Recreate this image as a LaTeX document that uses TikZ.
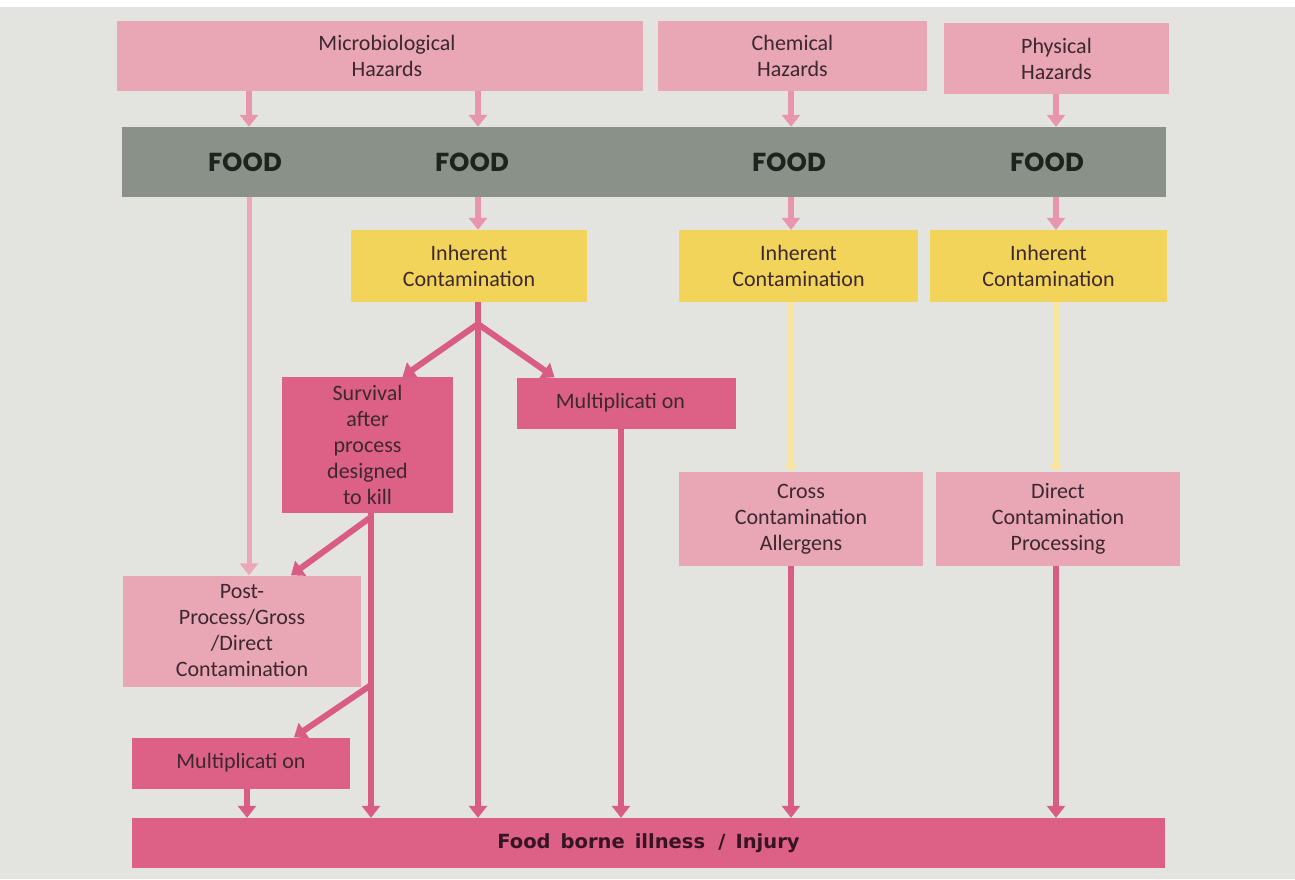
\documentclass[tikz,border=0pt]{standalone}
\usepackage{fontspec}
\setmainfont{Carlito}
\newfontfamily\foodfont{Poppins}
\newfontfamily\barfont{DejaVu Sans}
\usetikzlibrary{arrows.meta,calc}

\definecolor{bgcol}{RGB}{227,227,224}
\definecolor{hazpink}{RGB}{233,166,180}
\definecolor{deeppink}{RGB}{221,96,134}
\definecolor{bandgray}{RGB}{138,145,137}
\definecolor{inhyellow}{RGB}{243,212,90}
\definecolor{paleyellow}{RGB}{247,229,160}
\definecolor{toppink}{RGB}{232,150,172}
\definecolor{linkpink}{RGB}{216,92,132}
\definecolor{softpink}{RGB}{236,168,185}
\definecolor{txt}{RGB}{60,40,48}
\definecolor{bartxt}{RGB}{55,20,35}
\definecolor{foodtxt}{RGB}{30,35,32}

\tikzset{
  box/.style={rectangle, inner sep=0pt, align=center, text=txt,
    font=\fontsize{22}{26}\selectfont},
  hazbox/.style={box, fill=hazpink},
  inhbox/.style={box, fill=inhyellow},
  deepbox/.style={box, fill=deeppink},
  foodlabel/.style={inner sep=0pt, text=foodtxt,
    font=\foodfont\bfseries\fontsize{26}{30}\selectfont},
  tip/.style={-{Triangle[width=18pt,length=12pt]}},
  toparrow/.style={tip, draw=toppink, line width=6pt},
  softarrow/.style={tip, draw=softpink, line width=5pt},
  linkarrow/.style={tip, draw=linkpink, line width=6pt},
  yellowarrow/.style={-{Triangle[width=13pt,length=8pt]}, draw=paleyellow, line width=6pt},
}

\begin{document}
\begin{tikzpicture}[x=1pt,y=-1pt]
\useasboundingbox (0,0) rectangle (1295,879);
\fill[white] (0,0) rectangle (1295,879);
\fill[bgcol] (0,7) rectangle (1295,879);

% column positions of the vertical connectors
\coordinate (c1) at (249,0);
\coordinate (c2) at (478,0);
\coordinate (c3) at (791,0);
\coordinate (c4) at (1056,0);
\coordinate (c5) at (371,0);

% hazard boxes
\node[hazbox, minimum width=526pt, minimum height=70pt] (micro) at (380,56) {\hspace*{14pt}Microbiological\\\hspace*{14pt}Hazards};
\node[hazbox, minimum width=269pt, minimum height=70pt] (chem) at (792.5,56) {Chemical\\Hazards};
\node[hazbox, minimum width=225pt, minimum height=71pt] (phys) at (1056.5,58.5) {Physical\\Hazards};

% food band
\node[rectangle, fill=bandgray, minimum width=1044pt, minimum height=70pt, inner sep=0pt] (band) at (644,162) {};
\node[foodlabel] (food1) at (245,162) {FOOD};
\node[foodlabel] (food2) at (472,162) {FOOD};
\node[foodlabel] (food3) at (789,162) {FOOD};
\node[foodlabel] (food4) at (1047,162) {FOOD};

% inherent contamination
\node[inhbox, minimum width=236pt, minimum height=72pt] (inh1) at (469,266) {Inherent\\Contamination};
\node[inhbox, minimum width=239pt, minimum height=72pt] (inh2) at (798.5,266) {Inherent\\Contamination};
\node[inhbox, minimum width=237pt, minimum height=72pt] (inh3) at (1048.5,266) {Inherent\\Contamination};

% microbiological branches
\node[deepbox, minimum width=171pt, minimum height=136pt] (surv) at (367.5,445) {Survival\\after\\process\\designed\\to kill};
\node[deepbox, minimum width=219pt, minimum height=51pt] (mult1) at (626.5,403) {\hspace{-12pt}Multiplicati on};
\node[hazbox, minimum width=238pt, minimum height=111pt] (post) at (242,631) {Post-\\Process/Gross\\/Direct\\Contamination};
\node[deepbox, minimum width=218pt, minimum height=51pt] (mult2) at (241,763) {Multiplicati on};

% chemical / physical contamination
\node[hazbox, minimum width=244pt, minimum height=94pt] (cross) at (801,519) {Cross\\Contamination\\Allergens};
\node[hazbox, minimum width=244pt, minimum height=94pt] (direct) at (1058,519) {Direct\\Contamination\\Processing};

% outcome
\node[rectangle, fill=deeppink, minimum width=1033pt, minimum height=50pt, inner sep=0pt,
  text=bartxt, font=\barfont\bfseries\fontsize{19.5}{24}\selectfont] (bar) at (648.5,843)
  {Food\, borne\, illness\, \,/\, Injury};

% hazards into food
\draw[toparrow] (micro.south -| c1) -- (band.north -| c1);
\draw[toparrow] (micro.south -| c2) -- (band.north -| c2);
\draw[toparrow] (chem.south -| c3) -- (band.north -| c3);
\draw[toparrow] (phys.south -| c4) -- (band.north -| c4);

% food into inherent contamination
\draw[toparrow] (band.south -| c2) -- (inh1.north -| c2);
\draw[toparrow] (band.south -| c3) -- (inh2.north -| c3);
\draw[toparrow] (band.south -| c4) -- (inh3.north -| c4);

% food straight to post-process contamination
\draw[softarrow] (band.south -| c1) -- (post.north -| c1);

% microbiological paths
\coordinate (j1) at (478,324);
\coordinate (j2) at (371,517);
\coordinate (j3) at (371,685);
\draw[linkarrow] (inh1.south -| c2) -- (bar.north -| c2);
\draw[linkarrow] (j1) -- ([xshift=35pt]surv.north);
\draw[linkarrow] (j1) -- ([xshift=-72pt]mult1.north);
\draw[linkarrow] (surv.south -| c5) -- (bar.north -| c5);
\draw[linkarrow] (j2) -- ([xshift=49pt]post.north);
\draw[linkarrow] (j3) -- ([xshift=53pt]mult2.north);
\draw[linkarrow] ([xshift=-5.5pt]mult1.south) -- ([xshift=-5.5pt]mult1.south |- bar.north);
\draw[linkarrow] ([xshift=6pt]mult2.south) -- ([xshift=6pt]mult2.south |- bar.north);

% chemical / physical paths
\draw[yellowarrow] (inh2.south -| c3) -- (cross.north -| c3);
\draw[yellowarrow] (inh3.south -| c4) -- (direct.north -| c4);
\draw[linkarrow] (cross.south -| c3) -- (bar.north -| c3);
\draw[linkarrow] (direct.south -| c4) -- (bar.north -| c4);
\end{tikzpicture}
\end{document}
